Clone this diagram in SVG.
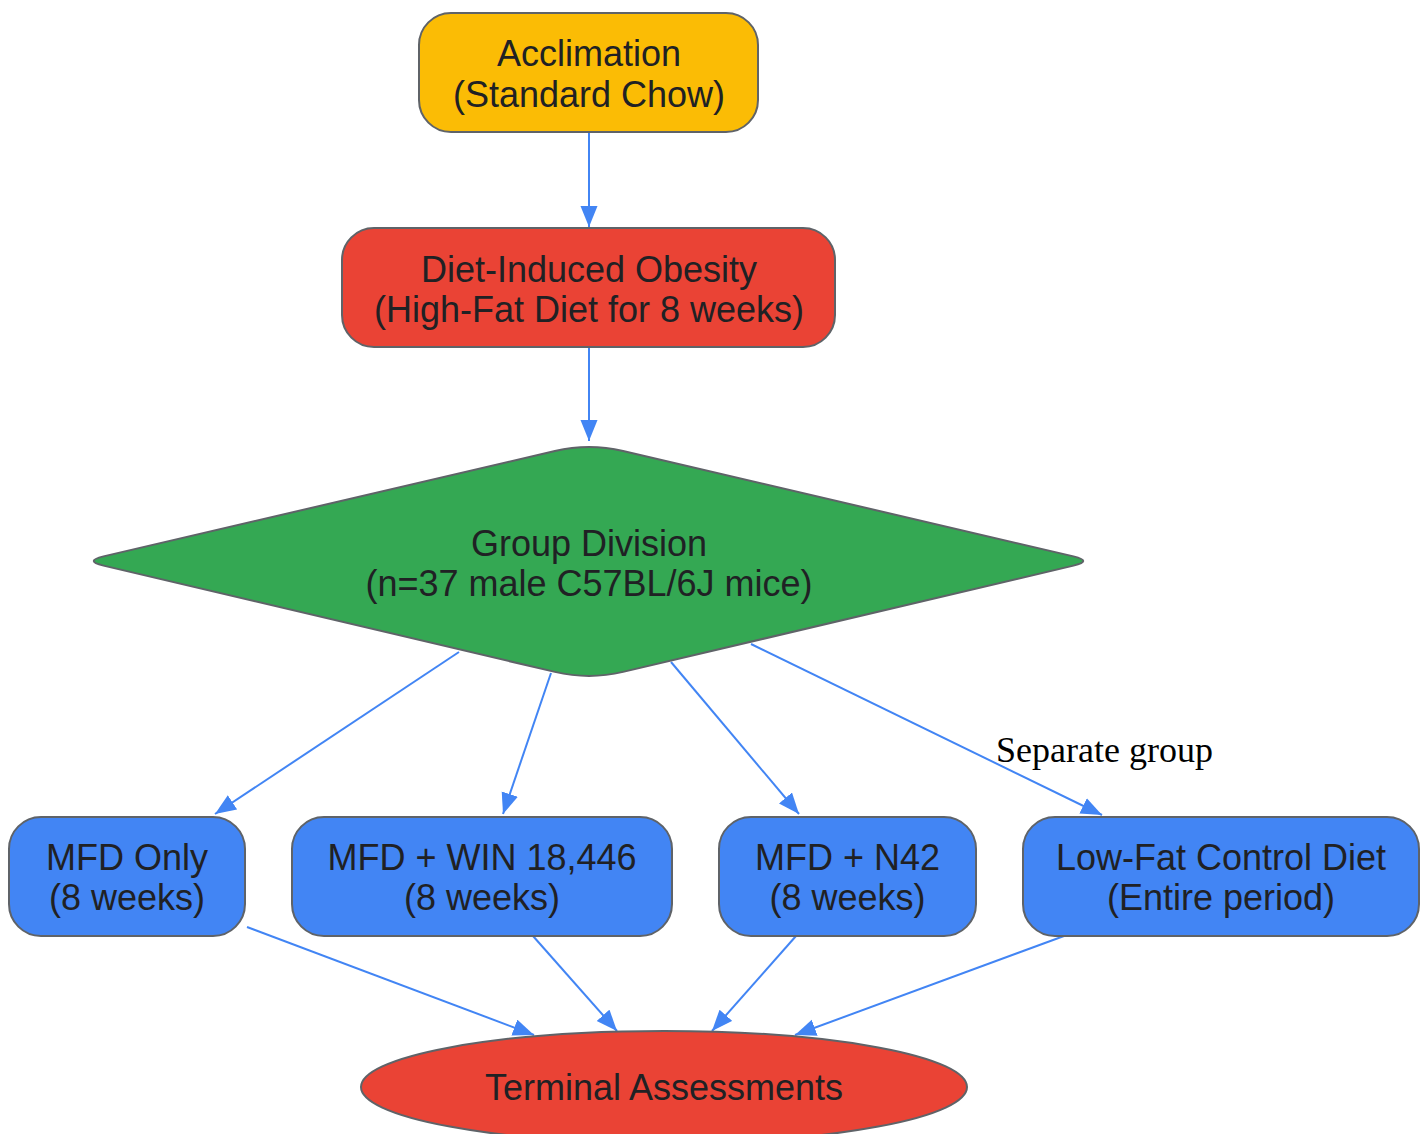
<svg xmlns="http://www.w3.org/2000/svg" width="1425" height="1134" viewBox="0 0 1425 1134">
<style>
.node { stroke: #5f6368; stroke-width: 2; }
.lbl { font-family: "Liberation Sans", Arial, sans-serif; font-size: 36px; fill: #202124; text-anchor: middle; }
.edge { stroke: #4285F4; stroke-width: 2; fill: none; marker-end: url(#arrow); }
.elbl { font-family: "Liberation Serif", "Times New Roman", serif; font-size: 36px; fill: #000; }
</style>
<defs>
<marker id="arrow" markerUnits="userSpaceOnUse" markerWidth="22" markerHeight="18" refX="21" refY="8.5" orient="auto">
<path d="M0,0 L21,8.5 L0,17 Z" fill="#4285F4"/>
</marker>
</defs>
<rect width="1425" height="1134" fill="#ffffff"/>
<g id="connectors">
<line class="edge" x1="589" y1="132" x2="589" y2="227"/>
<line class="edge" x1="589" y1="347" x2="589" y2="441"/>
<line class="edge" x1="459" y1="652" x2="215" y2="814"/>
<line class="edge" x1="551" y1="673" x2="503" y2="814"/>
<line class="edge" x1="671" y1="662" x2="799" y2="814"/>
<line class="edge" x1="751" y1="644" x2="1102" y2="815"/>
<text class="elbl" x="996" y="762">Separate group</text>
<line class="edge" x1="247" y1="927" x2="534" y2="1035"/>
<line class="edge" x1="533" y1="936" x2="617" y2="1031"/>
<line class="edge" x1="796" y1="936" x2="712" y2="1031"/>
<line class="edge" x1="1064" y1="936" x2="795" y2="1035"/>
</g>
<g id="acclimation">
<rect class="node" x="419" y="13" width="339" height="119" rx="32" fill="#FBBC05"/>
<text class="lbl" x="589" y="66">Acclimation</text>
<text class="lbl" x="589" y="107">(Standard Chow)</text>
</g>
<g id="dio">
<rect class="node" x="342" y="228" width="493" height="119" rx="32" fill="#EA4335"/>
<text class="lbl" x="589" y="282">Diet-Induced Obesity</text>
<text class="lbl" x="589" y="322">(High-Fat Diet for 8 weeks)</text>
</g>
<g id="group-division">
<path class="node" fill="#34A853" d="M554.9 451.05 Q589 443 623.1 451.05 L1073.5 556.4 Q1093 561 1073.5 565.6 L623.1 671.9 Q589 680 554.9 671.9 L103.5 565.6 Q84 561 103.5 556.4 Z"/>
<text class="lbl" x="589" y="556">Group Division</text>
<text class="lbl" x="589" y="596">(n=37 male C57BL/6J mice)</text>
</g>
<g id="mfd-only">
<rect class="node" x="9" y="817" width="236" height="119" rx="32" fill="#4285F4"/>
<text class="lbl" x="127" y="870">MFD Only</text>
<text class="lbl" x="127" y="910">(8 weeks)</text>
</g>
<g id="mfd-win">
<rect class="node" x="292" y="817" width="380" height="119" rx="32" fill="#4285F4"/>
<text class="lbl" x="482" y="870">MFD + WIN 18,446</text>
<text class="lbl" x="482" y="910">(8 weeks)</text>
</g>
<g id="mfd-n42">
<rect class="node" x="719" y="817" width="257" height="119" rx="32" fill="#4285F4"/>
<text class="lbl" x="847.5" y="870">MFD + N42</text>
<text class="lbl" x="847.5" y="910">(8 weeks)</text>
</g>
<g id="low-fat">
<rect class="node" x="1023" y="817" width="396" height="119" rx="32" fill="#4285F4"/>
<text class="lbl" x="1221" y="870">Low-Fat Control Diet</text>
<text class="lbl" x="1221" y="910">(Entire period)</text>
</g>
<g id="terminal">
<ellipse class="node" cx="664" cy="1087" rx="303" ry="56" fill="#EA4335"/>
<text class="lbl" x="664" y="1100">Terminal Assessments</text>
</g>
</svg>
